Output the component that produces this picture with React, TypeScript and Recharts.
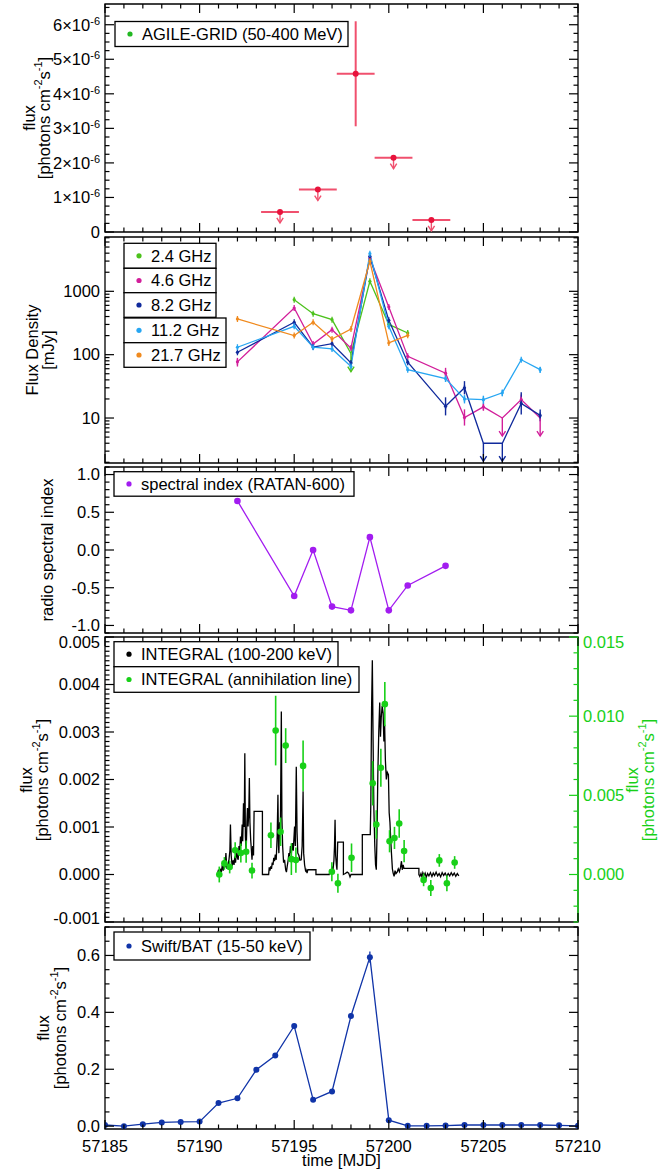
import React from "react";
import { ComposedChart, Line, Scatter, XAxis, YAxis, ErrorBar, ReferenceArea, ReferenceLine } from "recharts";

const W = 670;
const FONT = "'Liberation Sans', Arial, Helvetica, sans-serif";
const FS = 16.5;
const MAJOR = 9;
const MINOR = 4.5;
const X_DOMAIN: [number, number] = [57185, 57210];

// ---------- AGILE-GRID (50-400 MeV)
const agileTime = [57194.25, 57196.25, 57198.25, 57200.25, 57202.25];
const agileFlux = [0.58e-6, 1.23e-6, 4.58e-6, 2.15e-6, 0.35e-6];
const agileErr = [0, 0, 1.52e-6, 0, 0];
const agileHalfBin = [1, 1, 1, 1, 1];
const agileUpperLimit = [true, true, false, true, true];

// ---------- RATAN-600 radio flux densities (mJy)
const r24Time = [57195, 57196, 57197, 57198, 57199, 57200, 57201];
const r24Flux = [738, 444, 357, 104, 1440, 300, 220];
const r24UL = [57198];

const r46Time = [57192, 57195, 57196, 57197, 57198, 57199, 57200, 57201, 57203, 57204, 57205, 57206, 57207, 57208];
const r46Flux = [77, 545, 147, 248, 127, 3360, 566, 94, 51, 10.2, 15, 10, 19.5, 10];
const r46ErrLo = [12, 0, 0, 0, 0, 0, 0, 0, 9, 2.6, 2, 0, 3, 0];
const r46ErrHi = [12, 0, 0, 0, 0, 0, 0, 0, 11, 3.5, 2, 0, 4, 0];
const r46UL = [57206, 57208];

const r82Time = [57192, 57195, 57196, 57197, 57198, 57199, 57200, 57201, 57203, 57204, 57205, 57206, 57207, 57208];
const r82Flux = [109, 325, 132, 149, 74, 3570, 348, 76, 15.3, 30, 4, 4, 17, 11];
const r82ErrLo = [0, 0, 0, 0, 0, 0, 0, 0, 4.3, 6.4, 0, 0, 5.6, 2.1];
const r82ErrHi = [0, 0, 0, 0, 0, 0, 0, 0, 5.9, 8.2, 0, 0, 8.6, 2.6];
const r82UL = [57205, 57206];

const r112Time = [57192, 57195, 57196, 57197, 57198, 57199, 57200, 57201, 57203, 57204, 57205, 57206, 57207, 57208];
const r112Flux = [131, 280, 131, 123, 65, 3930, 280, 58, 42, 20, 19.5, 25, 83, 58];
const r112ErrLo = [0, 0, 0, 0, 0, 0, 0, 0, 5, 3, 3, 3, 0, 6];
const r112ErrHi = [0, 0, 0, 0, 0, 0, 0, 0, 5, 3, 3, 3, 0, 6];

const r217Time = [57192, 57195, 57196, 57197, 57198, 57199, 57200, 57201];
const r217Flux = [366, 200, 325, 177, 254, 2980, 153, 202];

// ---------- radio spectral index
const spTime = [57192, 57195, 57196, 57197, 57198, 57199, 57200, 57201, 57203];
const spIndex = [0.65, -0.61, 0.0, -0.75, -0.8, 0.17, -0.8, -0.47, -0.21];
const spErr = [0.03, 0.03, 0.03, 0.03, 0.03, 0.03, 0.03, 0.03, 0.03];

// ---------- INTEGRAL 100-200 keV light curve
const intTime = [
  57190.95, 57191.0, 57191.05, 57191.1, 57191.15, 57191.2, 57191.25, 57191.3, 57191.35, 57191.39,
  57191.44, 57191.48, 57191.55, 57191.6, 57191.63, 57191.67, 57191.72, 57191.78, 57191.82, 57191.86,
  57191.9, 57191.95, 57192.0, 57192.04, 57192.08, 57192.12, 57192.16, 57192.2, 57192.25, 57192.28,
  57192.32, 57192.36, 57192.39, 57192.42, 57192.46, 57192.5, 57192.53, 57192.56, 57192.6, 57192.63,
  57192.66, 57192.7, 57192.74, 57192.77, 57192.81, 57192.85, 57192.88, 57193.32, 57193.32, 57193.65,
  57193.68, 57193.72, 57193.76, 57193.8, 57193.84, 57193.88, 57193.92, 57193.96, 57194.0, 57194.05,
  57194.1, 57194.14, 57194.17, 57194.19, 57194.23, 57194.27, 57194.32, 57194.35, 57194.39, 57194.44,
  57194.49, 57194.55, 57194.59, 57194.63, 57194.68, 57194.72, 57194.76, 57194.8, 57194.85, 57194.9,
  57194.95, 57195.02, 57195.06, 57195.11, 57195.15, 57195.19, 57195.25, 57195.3, 57195.37, 57195.42,
  57195.47, 57195.5, 57195.55, 57195.6, 57195.63, 57195.68, 57195.72, 57196.15, 57196.15, 57196.85,
  57196.9, 57196.95, 57197.0, 57197.05, 57197.1, 57197.13, 57197.16, 57197.19, 57197.23, 57197.26,
  57197.3, 57197.6, 57197.6, 57197.7, 57197.8, 57197.88, 57197.95, 57198.0, 57198.6, 57198.6,
  57199.02, 57199.05, 57199.09, 57199.13, 57199.17, 57199.21, 57199.26, 57199.3, 57199.34, 57199.38,
  57199.42, 57199.47, 57199.52, 57199.56, 57199.6, 57199.65, 57199.7, 57199.74, 57199.78, 57199.82,
  57199.87, 57199.92, 57199.98, 57200.02, 57200.06, 57200.1, 57200.14, 57200.19, 57200.23, 57200.28,
  57200.33, 57200.38, 57200.44, 57200.5, 57200.56, 57200.62, 57200.67, 57200.71, 57200.76, 57200.8,
  57200.88, 57201.59, 57201.59, 57201.64, 57201.7, 57201.75, 57201.8, 57201.86, 57201.92, 57201.98,
  57202.05, 57202.12, 57202.2, 57202.28, 57202.35, 57202.42, 57202.5, 57202.58, 57202.66, 57202.74,
  57202.82, 57202.9, 57202.98, 57203.06, 57203.14, 57203.22, 57203.3, 57203.38, 57203.46, 57203.54,
  57203.62, 57203.7,
];
const intFlux = [
  0.00003, 0.0001, 0.0, 0.00012, 0.00005, 0.0002, 0.00008, 0.0003, 0.00015, 0.00045,
  0.00012, 0.00017, 0.0003, 0.0005, 0.00105, 0.0004, 0.00018, 0.0003, 0.0002, 0.00038,
  0.00025, 0.00052, 0.00035, 0.00031, 0.0006, 0.00045, 0.0008, 0.0006, 0.00105, 0.0007,
  0.0015, 0.001, 0.00255, 0.0008, 0.00045, 0.0011, 0.0014, 0.00101, 0.0013, 0.00203,
  0.0011, 0.00073, 0.0005, 0.00031, 0.0006, 0.0004, 0.00133, 0.00133, 0.0, 0.0,
  0.00015, 0.00008, 0.00017, 0.00012, 0.00025, 0.0002, 0.00035, 0.00028, 0.00042, 0.00031,
  0.0008, 0.00168, 0.0006, 0.00045, 0.0011, 0.0009, 0.00343, 0.0012, 0.00059, 0.00025,
  0.00031, 0.0001, 0.00005, 0.00017, 0.0003, 0.00045, 0.00038, 0.0006, 0.00045, 0.00066,
  0.0005, 0.00101, 0.0006, 0.00227, 0.0009, 0.00045, 0.0004, 0.0003, 0.00031, 0.0006,
  0.00175, 0.00045, 0.0002, 0.00008, 0.0001, 0.00003, 0.0001, 0.0001, 0.0, 0.0,
  0.00008, 0.00004, 0.00015, 0.0001, 0.0003, 0.0006, 0.00115, 0.0004, 0.0002, 0.0001,
  0.00068, 0.00068, 0.0, 0.00002, 0.00005, 0.00003, -0.00005, 0.0, 0.0, 0.00084,
  0.00084, 0.0015, 0.0035, 0.00451, 0.0028, 0.0014, 0.0006, 0.0002, 0.0001, 0.0009,
  0.0021, 0.003, 0.00362, 0.0029, 0.0033, 0.00355, 0.0034, 0.0028, 0.00315, 0.0024,
  0.002, 0.00215, 0.0021, 0.0013, 0.0011, 0.00075, 0.00045, 0.00012, 0.00003, -0.00004,
  0.00008, 0.00002, 0.00005, 0.00012, 0.00006, 0.00015, 0.00028, 0.0001, 0.0002, 0.00013,
  0.00013, 0.00013, 0.0, -0.00004, 0.00002, -0.00005, 0.00004, -0.00002, 0.00003, -0.00006,
  0.00002, -0.00003, 0.00004, -0.00004, 0.00003, -0.00002, 0.00005, -0.00003, 0.00002, -0.00005,
  0.00004, -0.00002, 0.00003, -0.00004, 0.00002, -0.00003, 0.00004, -0.00002, 0.00003, -0.00004,
  0.00002, -0.00003,
];

// ---------- INTEGRAL annihilation line (right axis)
const annTime = [
  57191.04, 57191.31, 57191.59, 57191.88, 57192.18, 57192.46, 57192.77, 57193.77, 57194.02, 57194.28,
  57194.55, 57194.85, 57195.09, 57195.47, 57196.99, 57197.31, 57198.03, 57199.15, 57199.34, 57199.58,
  57199.79, 57200.04, 57200.3, 57200.55, 57200.81, 57201.84, 57202.22, 57202.67, 57203.07, 57203.48,
];
const annFlux = [
  0.0, 0.0007, 0.00047, 0.00153, 0.00136, 0.00144, 0.00025, 0.00248, 0.00909, 0.0027,
  0.00814, 0.00097, 0.00091, 0.00686, 0.00017, -0.00055, 0.00106, 0.00576, 0.00316, 0.00674,
  0.01076, 0.0021, 0.00231, 0.00322, 0.00148, -0.00034, -0.00085, 0.00089, -0.00055, 0.00076,
];
const annErr = [
  0.0005, 0.0004, 0.0004, 0.0005, 0.0006, 0.0007, 0.0005, 0.0008, 0.0022, 0.0009,
  0.0011, 0.001, 0.0008, 0.0016, 0.0006, 0.0006, 0.0009, 0.0014, 0.0009, 0.0012,
  0.0014, 0.0007, 0.0007, 0.0009, 0.0007, 0.0004, 0.0005, 0.0004, 0.0005, 0.0004,
];

// ---------- Swift/BAT (15-50 keV), daily
const batTime = [
  57185, 57186, 57187, 57188, 57189, 57190, 57191, 57192, 57193, 57194, 57195, 57196, 57197,
  57198, 57199, 57200, 57201, 57202, 57203, 57204, 57205, 57206, 57207, 57208, 57209, 57210,
];
const batFlux = [
  0.004, 0.0, 0.007, 0.013, 0.015, 0.016, 0.081, 0.098, 0.198, 0.248, 0.352, 0.093, 0.122,
  0.387, 0.594, 0.021, 0.001, 0.001, 0.002, 0.004, 0.004, 0.004, 0.004, 0.004, 0.003, 0.001,
];
const batErr = [
  0.003, 0.003, 0.003, 0.003, 0.003, 0.003, 0.004, 0.004, 0.005, 0.005, 0.006, 0.004, 0.005,
  0.008, 0.02, 0.004, 0.003, 0.003, 0.003, 0.003, 0.003, 0.003, 0.003, 0.003, 0.003, 0.003,
];

// ---------- axis ticks
const xMajorTicks = [57185, 57190, 57195, 57200, 57205, 57210];
const xTicks = Array.from({ length: 26 }, (_, i) => 57185 + i);
const agileTicks = Array.from({ length: 27 }, (_, i) => i * 0.25e-6);
const radioTicks = [2, 3, 4, 5, 6, 7, 8, 9, 10, 20, 30, 40, 50, 60, 70, 80, 90, 100, 200, 300, 400, 500, 600, 700, 800, 900, 1000, 2000, 3000, 4000, 5000, 6000, 7000];
const spTicks = Array.from({ length: 23 }, (_, i) => +(-1.1 + i * 0.1).toFixed(2));
const intTicks = Array.from({ length: 61 }, (_, i) => +(-0.001 + i * 0.0001).toFixed(5));
const annTicks = Array.from({ length: 19 }, (_, i) => +(-0.003 + i * 0.001).toFixed(4));
const batTicks = Array.from({ length: 15 }, (_, i) => +(i * 0.05).toFixed(2));

const C = {
  agile: "#e8133c",
  agileBar: "#f0506e",
  agileLegend: "#22b822",
  g24: "#4cc21c",
  m46: "#d21e9a",
  b82: "#102a9c",
  c112: "#27a6f2",
  o217: "#f08a1e",
  sp: "#a21cf0",
  ann: "#18d018",
  bat: "#1034a8",
};

const multipleOf = (step: number) => (v: number) => Math.abs(v / step - Math.round(v / step)) < 1e-6;
const isDecade = (v: number) => Math.abs(Math.log10(v) - Math.round(Math.log10(v))) < 1e-6;

type Side = "left" | "right" | "top" | "bottom";

const tickRenderer =
  (
    side: Side,
    isMajor: (v: number) => boolean,
    fmt: ((v: number) => React.ReactNode) | null,
    color = "#000",
    shift: (v: number) => number = () => 0,
  ) =>
  (props: any) => {
    const x = Number(props.x);
    const y = Number(props.y);
    const v = props.payload.value as number;
    const major = isMajor(v);
    const len = major ? MAJOR : MINOR;
    let x2 = x;
    let y2 = y;
    if (side === "left") x2 = x + len;
    if (side === "right") x2 = x - len;
    if (side === "top") y2 = y + len;
    if (side === "bottom") y2 = y - len;
    let label: React.ReactNode = null;
    if (fmt && major) {
      const common = { fontSize: FS, fontFamily: FONT, fill: color };
      if (side === "left")
        label = (
          <text x={x - 5} y={y + shift(v)} dy="0.35em" textAnchor="end" {...common}>
            {fmt(v)}
          </text>
        );
      if (side === "right")
        label = (
          <text x={x + 5} y={y + shift(v)} dy="0.35em" textAnchor="start" {...common}>
            {fmt(v)}
          </text>
        );
      if (side === "bottom")
        label = (
          <text x={x} y={y + 17} dy="0.35em" textAnchor="middle" {...common}>
            {fmt(v)}
          </text>
        );
    }
    return (
      <g>
        <line x1={x} y1={y} x2={x2} y2={y2} stroke={color} strokeWidth={1.2} />
        {label}
      </g>
    );
  };

const xAxes = (labels: boolean) => [
  <XAxis
    key="xb"
    xAxisId="b"
    dataKey="t"
    type="number"
    domain={X_DOMAIN}
    ticks={xTicks}
    allowDataOverflow
    interval={0}
    height={labels ? 45 : 1}
    tickSize={0}
    tickMargin={0}
    tickLine={false}
    axisLine={false}
    tick={tickRenderer("bottom", (v) => xMajorTicks.includes(v), labels ? (v) => String(v) : null)}
  />,
  <XAxis
    key="xt"
    xAxisId="t"
    orientation="top"
    dataKey="t"
    type="number"
    domain={X_DOMAIN}
    ticks={xTicks}
    allowDataOverflow
    interval={0}
    height={1}
    tickSize={0}
    tickMargin={0}
    tickLine={false}
    axisLine={false}
    tick={tickRenderer("top", (v) => xMajorTicks.includes(v), null)}
  />,
];

const yAxisPair = (
  domain: [number, number],
  ticks: number[],
  isMajor: (v: number) => boolean,
  fmt: (v: number) => React.ReactNode,
  scale: "linear" | "log" = "linear",
) => [
  <YAxis
    key="yl"
    yAxisId="l"
    type="number"
    scale={scale}
    domain={domain}
    ticks={ticks}
    allowDataOverflow
    interval={0}
    width={105}
    tickSize={0}
    tickMargin={0}
    tickLine={false}
    axisLine={false}
    tick={tickRenderer("left", isMajor, fmt)}
  />,
  <YAxis
    key="yr"
    yAxisId="r"
    orientation="right"
    type="number"
    scale={scale}
    domain={domain}
    ticks={ticks}
    allowDataOverflow
    interval={0}
    width={92}
    tickSize={0}
    tickMargin={0}
    tickLine={false}
    axisLine={false}
    tick={tickRenderer("right", isMajor, null)}
  />,
];

// plot frame drawn through the axes' own scales
const frameBox = (domain: [number, number]) => (
  <ReferenceArea
    xAxisId="b"
    yAxisId="l"
    x1={X_DOMAIN[0]}
    x2={X_DOMAIN[1]}
    y1={domain[0]}
    y2={domain[1]}
    fill="none"
    stroke="#000"
    strokeWidth={1.3}
    ifOverflow="visible"
  />
);

const arrowDown = (cx: number, cy: number, len: number, color: string, key?: number) => (
  <g key={key}>
    <line x1={cx} y1={cy} x2={cx} y2={cy + len} stroke={color} strokeWidth={1.4} />
    <polyline
      points={`${cx - 3.2},${cy + len - 5} ${cx},${cy + len} ${cx + 3.2},${cy + len - 5}`}
      fill="none"
      stroke={color}
      strokeWidth={1.4}
    />
  </g>
);

const radioDot = (color: string) => (p: any) => {
  const { cx, cy, payload, index } = p;
  if (cx == null || cy == null) return <g key={index} />;
  if (payload.ul) return arrowDown(cx, cy, 18, color, index);
  return (
    <g key={index}>
      <line x1={cx} x2={cx} y1={cy - 3} y2={cy + 3} stroke={color} strokeWidth={1.3} />
      <circle cx={cx} cy={cy} r={1.6} fill={color} />
    </g>
  );
};

const circleDot = (color: string, r: number) => (p: any) => {
  const { cx, cy, index } = p;
  if (cx == null || cy == null) return <g key={index} />;
  return <circle key={index} cx={cx} cy={cy} r={r} fill={color} />;
};

const radioSeries = (
  time: number[],
  flux: number[],
  ul: number[],
  errLo: number[] | null,
  errHi: number[] | null,
) =>
  time.map((t, i) => ({
    t,
    f: flux[i],
    ul: ul.includes(t),
    e: [errLo ? errLo[i] : 0, errHi ? errHi[i] : 0],
  }));

const agileData = agileTime.map((t, i) => ({
  t,
  f: agileFlux[i],
  e: agileErr[i],
  xe: agileHalfBin[i],
  ul: agileUpperLimit[i],
}));
const spData = spTime.map((t, i) => ({ t, f: spIndex[i], e: spErr[i] }));
const intData = intTime.map((t, i) => ({ t, f: intFlux[i] }));
const annData = annTime.map((t, i) => ({ t, f: annFlux[i], e: annErr[i] }));
const batData = batTime.map((t, i) => ({ t, f: batFlux[i], e: batErr[i] }));

const fmtAgile = (v: number) => {
  const n = Math.round(v * 1e6);
  if (n === 0) return "0";
  return (
    <>
      {`${n}×10`}
      <tspan dy={-6} fontSize={11}>
        -6
      </tspan>
    </>
  );
};

// panel positions (top of plot area, plot height)
const P1 = { top: 4, h: 228 };
const P2 = { top: 237, h: 226 };
const P3 = { top: 467, h: 166 };
const P4 = { top: 637, h: 285 };
const P5 = { top: 927, h: 202 };
const PAD = 10;
const M = { top: PAD - 1, right: 0, bottom: PAD - 1, left: 0 };

const chartBox = (top: number): React.CSSProperties => ({ position: "absolute", left: 0, top: top - PAD });

function Units() {
  return (
    <>
      {"[photons cm"}
      <tspan dy={-6} fontSize={11}>
        -2
      </tspan>
      <tspan dy={6}>s</tspan>
      <tspan dy={-6} fontSize={11}>
        -1
      </tspan>
      <tspan dy={6}>]</tspan>
    </>
  );
}

function VTitle({ x, y, color = "#000", children }: { x: number; y: number; color?: string; children: React.ReactNode }) {
  return (
    <text
      x={x}
      y={y}
      transform={`rotate(-90 ${x} ${y})`}
      textAnchor="middle"
      dominantBaseline="central"
      fontSize={FS}
      fontFamily={FONT}
      fill={color}
    >
      {children}
    </text>
  );
}

function LegendBox({ x, y, w, h, color, label }: { x: number; y: number; w: number; h: number; color: string; label: string }) {
  return (
    <g>
      <rect x={x} y={y} width={w} height={h} fill="#fff" stroke="#000" strokeWidth={1.3} />
      <circle cx={x + 15} cy={y + h / 2} r={2.6} fill={color} />
      <text x={x + 27} y={y + h / 2} dy="0.35em" fontSize={FS} fontFamily={FONT} fill="#000">
        {label}
      </text>
    </g>
  );
}

const edgeShift4 = (v: number) => (v > 0.0049 ? 5 : v < -0.0009 ? -4 : 0);
const edgeShift4r = (v: number) => (v > 0.0149 ? 5 : 0);

export default function App() {
  return (
    <div style={{ position: "absolute", left: 0, top: 0, width: W, height: 1169, background: "#fff" }}>
      {/* AGILE */}
      <div style={chartBox(P1.top)}>
        <ComposedChart width={W} height={P1.h + 2 * PAD} margin={M}>
          {xAxes(false)}
          {yAxisPair([0, 6.6e-6], agileTicks, multipleOf(1e-6), fmtAgile)}
          {frameBox([0, 6.6e-6])}
          <Scatter
            xAxisId="b"
            yAxisId="l"
            data={agileData}
            dataKey="f"
            isAnimationActive={false}
            shape={(p: any) => (
              <g>
                {p.payload.ul ? arrowDown(p.cx, p.cy, 11, C.agileBar) : null}
                <circle cx={p.cx} cy={p.cy} r={3} fill={C.agile} />
              </g>
            )}
          >
            <ErrorBar dataKey="xe" direction="x" width={0} stroke={C.agileBar} strokeWidth={2} />
            <ErrorBar dataKey="e" direction="y" width={0} stroke={C.agileBar} strokeWidth={2} />
          </Scatter>
        </ComposedChart>
      </div>

      {/* Radio flux densities */}
      <div style={chartBox(P2.top)}>
        <ComposedChart width={W} height={P2.h + 2 * PAD} margin={M}>
          {xAxes(false)}
          {yAxisPair([1.95, 7200], radioTicks, isDecade, (v) => String(v), "log")}
          {frameBox([1.95, 7200])}
          <Line xAxisId="b" yAxisId="l" data={radioSeries(r24Time, r24Flux, r24UL, null, null)} dataKey="f" stroke={C.g24} strokeWidth={1.3} dot={radioDot(C.g24)} isAnimationActive={false} />
          <Line xAxisId="b" yAxisId="l" data={radioSeries(r46Time, r46Flux, r46UL, r46ErrLo, r46ErrHi)} dataKey="f" stroke={C.m46} strokeWidth={1.3} dot={radioDot(C.m46)} isAnimationActive={false}>
            <ErrorBar dataKey="e" width={0} stroke={C.m46} strokeWidth={1.4} />
          </Line>
          <Line xAxisId="b" yAxisId="l" data={radioSeries(r82Time, r82Flux, r82UL, r82ErrLo, r82ErrHi)} dataKey="f" stroke={C.b82} strokeWidth={1.3} dot={radioDot(C.b82)} isAnimationActive={false}>
            <ErrorBar dataKey="e" width={0} stroke={C.b82} strokeWidth={1.4} />
          </Line>
          <Line xAxisId="b" yAxisId="l" data={radioSeries(r112Time, r112Flux, [], r112ErrLo, r112ErrHi)} dataKey="f" stroke={C.c112} strokeWidth={1.3} dot={radioDot(C.c112)} isAnimationActive={false}>
            <ErrorBar dataKey="e" width={0} stroke={C.c112} strokeWidth={1.4} />
          </Line>
          <Line xAxisId="b" yAxisId="l" data={radioSeries(r217Time, r217Flux, [], null, null)} dataKey="f" stroke={C.o217} strokeWidth={1.3} dot={radioDot(C.o217)} isAnimationActive={false} />
        </ComposedChart>
      </div>

      {/* Spectral index */}
      <div style={chartBox(P3.top)}>
        <ComposedChart width={W} height={P3.h + 2 * PAD} margin={M}>
          {xAxes(false)}
          {yAxisPair([-1.1, 1.1], spTicks, multipleOf(0.5), (v) => v.toFixed(1))}
          {frameBox([-1.1, 1.1])}
          <Line xAxisId="b" yAxisId="l" data={spData} dataKey="f" stroke={C.sp} strokeWidth={1.3} dot={circleDot(C.sp, 3.3)} isAnimationActive={false}>
            <ErrorBar dataKey="e" width={0} stroke={C.sp} strokeWidth={1.4} />
          </Line>
        </ComposedChart>
      </div>

      {/* INTEGRAL */}
      <div style={chartBox(P4.top)}>
        <ComposedChart width={W} height={P4.h + 2 * PAD} margin={M}>
          {xAxes(false)}
          <YAxis
            yAxisId="l"
            type="number"
            domain={[-0.001, 0.005]}
            ticks={intTicks}
            allowDataOverflow
            interval={0}
            width={105}
            tickSize={0}
            tickMargin={0}
            tickLine={false}
            axisLine={false}
            tick={tickRenderer("left", multipleOf(0.001), (v) => v.toFixed(3), "#000", edgeShift4)}
          />
          <YAxis
            yAxisId="r"
            orientation="right"
            type="number"
            domain={[-0.003, 0.015]}
            ticks={annTicks}
            allowDataOverflow
            interval={0}
            width={92}
            tickSize={0}
            tickMargin={0}
            tickLine={false}
            axisLine={false}
            tick={tickRenderer("right", multipleOf(0.005), (v) => v.toFixed(3), C.ann, edgeShift4r)}
          />
          {frameBox([-0.001, 0.005])}
          <ReferenceLine xAxisId="b" yAxisId="l" x={X_DOMAIN[1]} stroke={C.ann} strokeWidth={1.5} ifOverflow="visible" />
          <Line xAxisId="b" yAxisId="l" data={intData} dataKey="f" stroke="#000" strokeWidth={1.3} dot={false} isAnimationActive={false} />
          <Scatter
            xAxisId="b"
            yAxisId="r"
            data={annData}
            dataKey="f"
            isAnimationActive={false}
            shape={(p: any) => <circle cx={p.cx} cy={p.cy} r={3.3} fill={C.ann} />}
          >
            <ErrorBar dataKey="e" direction="y" width={0} stroke={C.ann} strokeWidth={1.6} />
          </Scatter>
        </ComposedChart>
      </div>

      {/* Swift/BAT */}
      <div style={chartBox(P5.top)}>
        <ComposedChart width={W} height={P5.h + PAD + 45} margin={{ top: PAD - 1, right: 0, bottom: 0, left: 0 }}>
          {xAxes(true)}
          {yAxisPair([-0.01, 0.7], batTicks, multipleOf(0.2), (v) => v.toFixed(1))}
          {frameBox([-0.01, 0.7])}
          <Line xAxisId="b" yAxisId="l" data={batData} dataKey="f" stroke={C.bat} strokeWidth={1.3} dot={circleDot(C.bat, 3)} isAnimationActive={false}>
            <ErrorBar dataKey="e" width={0} stroke={C.bat} strokeWidth={1.3} />
          </Line>
        </ComposedChart>
      </div>

      {/* titles and legends */}
      <svg width={W} height={1169} style={{ position: "absolute", left: 0, top: 0, pointerEvents: "none" }}>
        <VTitle x={29} y={118}>flux</VTitle>
        <VTitle x={44} y={118}>
          <Units />
        </VTitle>
        <VTitle x={32} y={350}>Flux Density</VTitle>
        <VTitle x={48} y={350}>[mJy]</VTitle>
        <VTitle x={47} y={550}>radio spectral index</VTitle>
        <VTitle x={26} y={780}>flux</VTitle>
        <VTitle x={42} y={780}>
          <Units />
        </VTitle>
        <VTitle x={632} y={780} color={C.ann}>flux</VTitle>
        <VTitle x={648} y={780} color={C.ann}>
          <Units />
        </VTitle>
        <VTitle x={43} y={1028}>flux</VTitle>
        <VTitle x={60} y={1028}>
          <Units />
        </VTitle>
        <text x={341.5} y={1160} dy="0.35em" textAnchor="middle" fontSize={FS} fontFamily={FONT}>
          time [MJD]
        </text>

        <LegendBox x={115} y={21.5} w={233} h={25} color={C.agileLegend} label="AGILE-GRID (50-400 MeV)" />

        <LegendBox x={124} y={243.3} w={92} h={25} color={C.g24} label="2.4 GHz" />
        <LegendBox x={124} y={268.3} w={92} h={24.4} color={C.m46} label="4.6 GHz" />
        <LegendBox x={124} y={292.7} w={92} h={24.6} color={C.b82} label="8.2 GHz" />
        <LegendBox x={124} y={318} w={102} h={24.7} color={C.c112} label="11.2 GHz" />
        <LegendBox x={124} y={342.7} w={102} h={24.6} color={C.o217} label="21.7 GHz" />

        <LegendBox x={114} y={471.7} w={240} h={24.5} color={C.sp} label="spectral index (RATAN-600)" />

        <LegendBox x={114} y={641.7} w={224} h={25} color="#000" label="INTEGRAL (100-200 keV)" />
        <LegendBox x={114} y={666.7} w={245} h={25.6} color={C.ann} label="INTEGRAL (annihilation line)" />

        <LegendBox x={114} y={932} w={196} h={28} color={C.bat} label="Swift/BAT (15-50 keV)" />
      </svg>
    </div>
  );
}
